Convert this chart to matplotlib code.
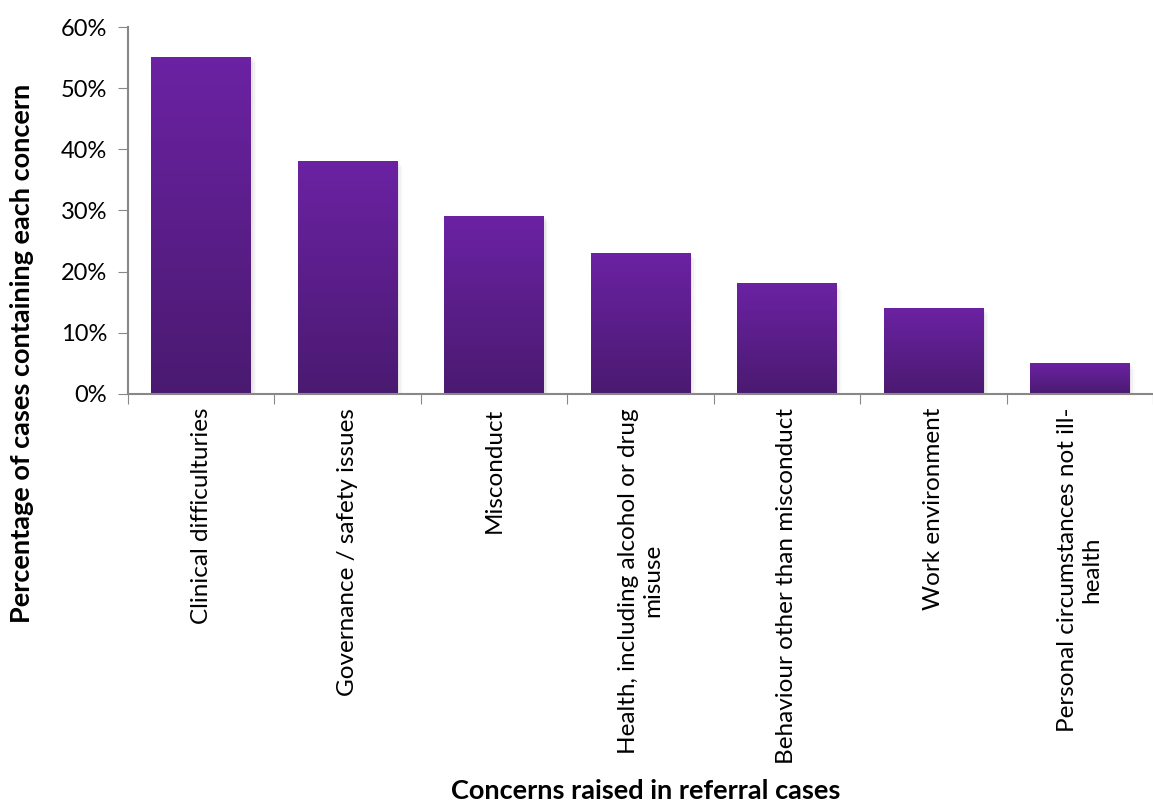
import numpy as np
import matplotlib
matplotlib.use('Agg')
import matplotlib.pyplot as plt
from matplotlib.colors import LinearSegmentedColormap
from matplotlib.patches import Rectangle

categories = ['Clinical difficulturies', 'Governance / safety issues', 'Misconduct',
              'Health, including alcohol or drug\nmisuse', 'Behaviour other than misconduct',
              'Work environment', 'Personal circumstances not ill-\nhealth']
values = [55, 38, 29, 23, 18, 14, 5]

plt.rcParams['font.family'] = ['Lato', 'DejaVu Sans']

fig = plt.figure(figsize=(11.53, 8.06), dpi=100)
ax = fig.add_axes([128 / 1153, (806 - 394) / 806, (1153 - 128) / 1153, (394 - 27) / 806])

cmap = LinearSegmentedColormap.from_list('purp', ['#4a1a70', '#6b22a3'])
grad = np.linspace(0, 1, 256).reshape(-1, 1)
x = np.arange(len(categories))
w = 0.68
bars = ax.bar(x, values, width=w, color='none', zorder=3)
for b, v in zip(bars, values):
    x0 = b.get_x()
    # soft shadow
    for i, a in enumerate([0.10, 0.07, 0.04]):
        d = 0.012 * (i + 1)
        ax.add_patch(Rectangle((x0 + d, -0.3 * (i + 1)), w, v, color='gray', alpha=a, lw=0, zorder=1))
    ax.imshow(grad, extent=(x0, x0 + w, 0, v), origin='lower', cmap=cmap, aspect='auto', zorder=2)

ax.set_xlim(-0.5, 6.45)
ax.set_ylim(0, 60)
ax.set_yticks(range(0, 61, 10))
ax.set_yticklabels([f'{t}%' for t in range(0, 61, 10)], fontsize=17)
ax.set_xticks(np.arange(-0.5, 7, 1), minor=False)
ax.set_xticklabels([])
ax.set_xticks(x, minor=True)
ax.set_xticklabels(categories, minor=True, rotation=90, fontsize=17.5, multialignment='center')
ax.tick_params(axis='x', which='minor', length=0, pad=10)
ax.tick_params(axis='x', which='major', length=7, color='#888888', direction='out')
ax.tick_params(axis='y', length=7, color='#888888', direction='out', pad=8)

for s in ['top', 'right']:
    ax.spines[s].set_visible(False)
for s in ['left', 'bottom']:
    ax.spines[s].set_color('#888888')
    ax.spines[s].set_linewidth(1.5)

fig.text(22 / 1153, 1 - 353 / 806, 'Percentage of cases containing each concern', fontsize=19.5,
         fontweight='bold', rotation=90, ha='center', va='center')
fig.text(646 / 1153, 3 / 806, 'Concerns raised in referral cases', fontsize=19.5,
         fontweight='bold', ha='center', va='bottom')

fig.savefig('out.png', dpi=100)
